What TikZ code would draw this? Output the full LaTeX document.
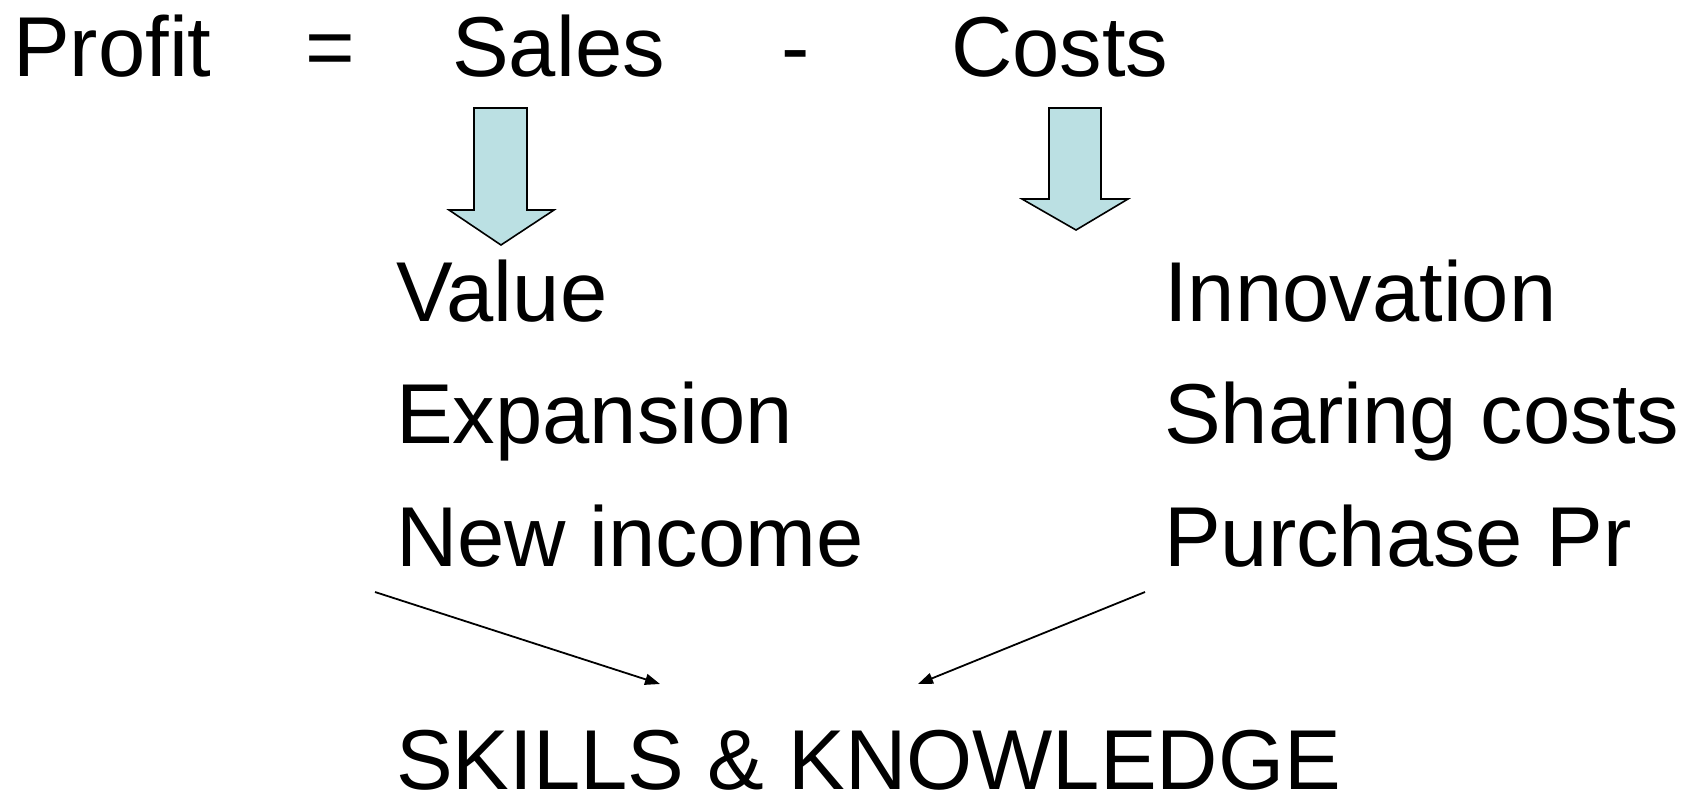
\documentclass[tikz,border=0pt]{standalone}
\usepackage{fontspec}
\setmainfont{Liberation Sans}
\usetikzlibrary{arrows.meta}
\definecolor{arrowfill}{HTML}{BBE0E3}
\begin{document}
\begin{tikzpicture}[x=1pt,y=-1pt,
  word/.style={anchor=base west,inner sep=0pt,font=\fontsize{85}{100}\selectfont},
  bigarrow/.style={draw=black,line width=1.6pt,fill=arrowfill,line join=miter},
  link/.style={draw=black,line width=1.8pt,-{Triangle[length=15pt,width=11pt]}}]
\useasboundingbox (0,0) rectangle (1694,796);

% equation along the top
\node[word] (profit) at (13,76) {Profit};
\node[word] (eq) at (305,76) {=};
\node[word] (sales) at (452,76) {Sales};
\node[word] (minus) at (781,76) {-};
\node[word] (costs) at (951,76) {Costs};

% block arrows under Sales and Costs
\draw[bigarrow] (474,108) -- (527,108) -- (527,210) -- (554,210) -- (501,245)
  -- (449,210) -- (474,210) -- cycle;
\draw[bigarrow] (1049,108) -- (1101,108) -- (1101,199) -- (1128,199) -- (1076,230)
  -- (1022,199) -- (1049,199) -- cycle;

% sales side
\node[word] (value) at (396,321) {Value};
\node[word] (expansion) at (396,443) {Expansion};
\node[word] (income) at (396,566) {New income};

% cost side
\node[word] (innovation) at (1164,321) {Innovation};
\node[word] (sharing) at (1164,443) {Sharing costs};
\node[word] (purchase) at (1164,566) {Purchase Pr};

% foundation
\node[word,text depth=0pt] (skills) at (396,789) {SKILLS \& KNOWLEDGE};

\coordinate (lstart) at (375,592);
\coordinate (lend) at (660,684);
\coordinate (rstart) at (1145,592);
\coordinate (rend) at (918,684);
\draw[link] (lstart) -- (lend);
\draw[link] (rstart) -- (rend);
\end{tikzpicture}
\end{document}
